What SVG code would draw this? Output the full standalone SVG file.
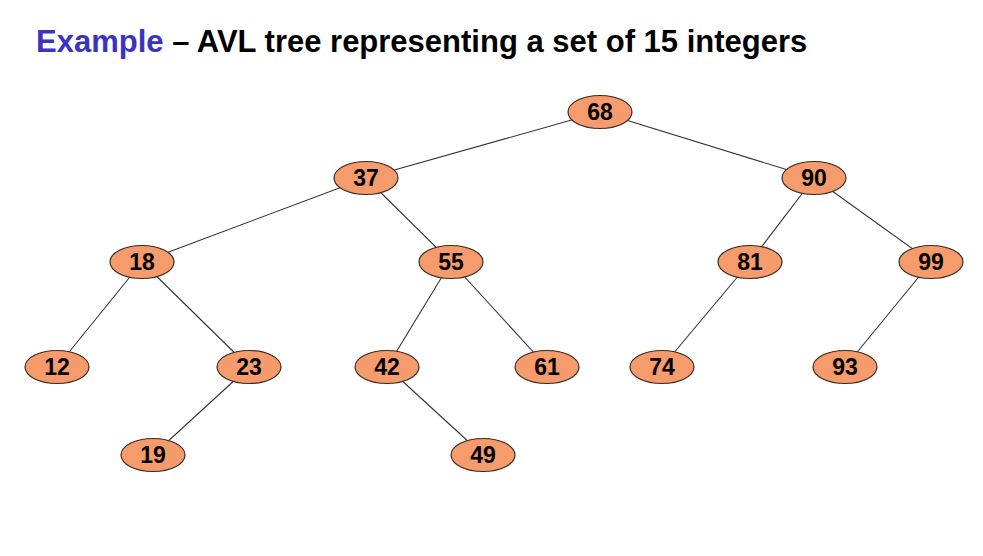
<svg xmlns="http://www.w3.org/2000/svg" width="983" height="556" viewBox="0 0 983 556">
<style>
.n ellipse{fill:#F59B6C;stroke:#3a2a22;stroke-width:1.2}
.n text{font-family:"Liberation Sans",Arial,sans-serif;font-weight:bold;font-size:23px;fill:#000;text-anchor:middle}
#edges line{stroke:#333;stroke-width:1.1}
.t{font-family:"Liberation Sans",Arial,sans-serif;font-weight:bold;font-size:31px}
</style>
<rect width="983" height="556" fill="#fff"/>
<text class="t" x="36" y="52"><tspan fill="#3B34C0">Example</tspan><tspan fill="#000"> – AVL tree representing a set of 15 integers</tspan></text>
<g id="edges">
<line x1="600" y1="112" x2="366" y2="178"/>
<line x1="600" y1="112" x2="814" y2="178"/>
<line x1="366" y1="178" x2="142" y2="262"/>
<line x1="366" y1="178" x2="451" y2="262"/>
<line x1="814" y1="178" x2="750" y2="262"/>
<line x1="814" y1="178" x2="931" y2="262"/>
<line x1="142" y1="262" x2="57" y2="367"/>
<line x1="142" y1="262" x2="249" y2="367"/>
<line x1="451" y1="262" x2="387" y2="367"/>
<line x1="451" y1="262" x2="547" y2="367"/>
<line x1="750" y1="262" x2="662" y2="367"/>
<line x1="931" y1="262" x2="845" y2="367"/>
<line x1="249" y1="367" x2="153" y2="455"/>
<line x1="387" y1="367" x2="483" y2="455"/>
</g>
<g id="n68" class="n"><ellipse cx="600" cy="112" rx="32" ry="16.5"/><text x="600" y="120">68</text></g>
<g id="n37" class="n"><ellipse cx="366" cy="178" rx="32" ry="16.5"/><text x="366" y="186">37</text></g>
<g id="n90" class="n"><ellipse cx="814" cy="178" rx="32" ry="16.5"/><text x="814" y="186">90</text></g>
<g id="n18" class="n"><ellipse cx="142" cy="262" rx="32" ry="16.5"/><text x="142" y="270">18</text></g>
<g id="n55" class="n"><ellipse cx="451" cy="262" rx="32" ry="16.5"/><text x="451" y="270">55</text></g>
<g id="n81" class="n"><ellipse cx="750" cy="262" rx="32" ry="16.5"/><text x="750" y="270">81</text></g>
<g id="n99" class="n"><ellipse cx="931" cy="262" rx="32" ry="16.5"/><text x="931" y="270">99</text></g>
<g id="n12" class="n"><ellipse cx="57" cy="367" rx="32" ry="16.5"/><text x="57" y="375">12</text></g>
<g id="n23" class="n"><ellipse cx="249" cy="367" rx="32" ry="16.5"/><text x="249" y="375">23</text></g>
<g id="n42" class="n"><ellipse cx="387" cy="367" rx="32" ry="16.5"/><text x="387" y="375">42</text></g>
<g id="n61" class="n"><ellipse cx="547" cy="367" rx="32" ry="16.5"/><text x="547" y="375">61</text></g>
<g id="n74" class="n"><ellipse cx="662" cy="367" rx="32" ry="16.5"/><text x="662" y="375">74</text></g>
<g id="n93" class="n"><ellipse cx="845" cy="367" rx="32" ry="16.5"/><text x="845" y="375">93</text></g>
<g id="n19" class="n"><ellipse cx="153" cy="455" rx="32" ry="16.5"/><text x="153" y="463">19</text></g>
<g id="n49" class="n"><ellipse cx="483" cy="455" rx="32" ry="16.5"/><text x="483" y="463">49</text></g>
</svg>
